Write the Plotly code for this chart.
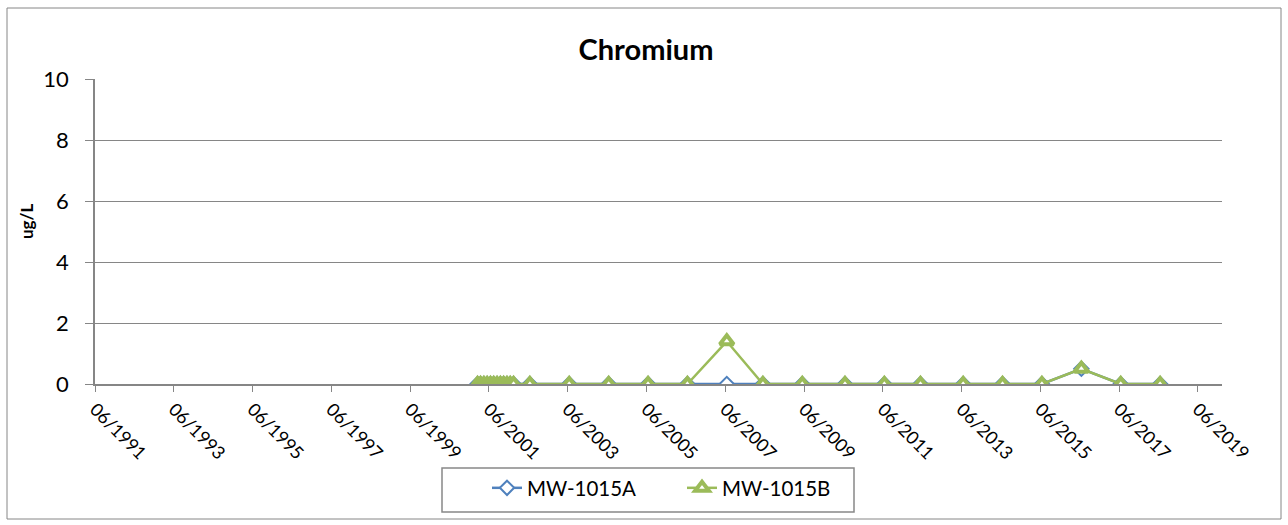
import plotly.graph_objects as go

dates = [
    "2001-02-15", "2001-03-15", "2001-04-15", "2001-05-15", "2001-06-15",
    "2001-07-15", "2001-08-15", "2001-09-15", "2001-10-15", "2001-11-15",
    "2001-12-15", "2002-01-15",
    "2002-06-15", "2003-06-15", "2004-06-15", "2005-06-15", "2006-06-15",
    "2007-06-15", "2008-05-15", "2009-05-15", "2010-06-15", "2011-06-15",
    "2012-05-15", "2013-06-15", "2014-06-15", "2015-06-15", "2016-06-15",
    "2017-06-15", "2018-06-15",
]
mw_1015a = [0] * 12 + [0, 0, 0, 0, 0, 0, 0, 0, 0, 0, 0, 0, 0, 0, 0.5, 0, 0]
mw_1015b = [0] * 12 + [0, 0, 0, 0, 0, 1.4, 0, 0, 0, 0, 0, 0, 0, 0, 0.5, 0, 0]

font_family = "Lato, 'Open Sans', sans-serif"
grid_col = "#868686"

PW, PH, PL, PB = 1127, 305, 95, 384  # plot area size / left / bottom in px


def px_x(x):
    return (x - PL) / PW


def px_y(y):
    return (PB - y) / PH


fig = go.Figure()
fig.add_trace(go.Scatter(
    x=dates, y=mw_1015a, name="MW-1015A", mode="lines+markers",
    line=dict(color="#4F81BD", width=2.5),
    marker=dict(symbol="diamond", size=11, color="white",
                line=dict(color="#4F81BD", width=2)),
))
fig.add_trace(go.Scatter(
    x=dates, y=mw_1015b, name="MW-1015B", mode="lines+markers",
    line=dict(color="#9BBB59", width=2.5),
    marker=dict(symbol="triangle-up", size=12, color="white",
                line=dict(color="#9BBB59", width=4)),
))

fig.update_layout(
    width=1288, height=525,
    margin=dict(l=95, r=66, t=79, b=141),
    paper_bgcolor="white", plot_bgcolor="white",
    font=dict(family=font_family, color="black"),
    title=dict(text="<b>Chromium</b>", x=px_x(646), xref="paper", xanchor="center",
               y=1 - 50 / 525, yref="container", yanchor="middle",
               font=dict(size=29, family=font_family, color="black")),
    showlegend=True,
    legend=dict(orientation="h", x=px_x(487), xanchor="left", xref="paper",
                y=px_y(468), yanchor="top", borderwidth=0,
                bgcolor="rgba(0,0,0,0)",
                font=dict(size=20.5, family=font_family),
                entrywidth=150, traceorder="normal"),
    shapes=[
        dict(type="rect", xref="paper", yref="paper",
             x0=px_x(7), x1=px_x(1281), y0=px_y(519), y1=px_y(8),
             line=dict(color="#868686", width=1)),
        dict(type="rect", xref="paper", yref="paper",
             x0=px_x(442), x1=px_x(854), y0=px_y(512), y1=px_y(468),
             line=dict(color="#888888", width=1.5)),
    ],
    annotations=[dict(text="<b>ug/L</b>", textangle=-90, showarrow=False,
                      xref="paper", yref="paper",
                      x=px_x(26), y=px_y(222),
                      xanchor="center", yanchor="middle",
                      font=dict(size=17, family=font_family, color="black"))],
)

fig.update_xaxes(
    type="date", range=["1991-06-01", "2020-01-10"],
    tick0="1991-06-01", dtick="M24", tickformat="%m/%Y", tickangle=45,
    showgrid=False, showline=True, linecolor=grid_col, linewidth=1.5,
    ticks="outside", ticklen=6, tickcolor=grid_col,
    tickfont=dict(size=18, family=font_family, color="black"),
    zeroline=False,
)
fig.update_yaxes(
    range=[0, 10], dtick=2, showgrid=True, gridcolor=grid_col, gridwidth=1,
    showline=True, linecolor=grid_col, linewidth=1.5,
    ticks="outside", ticklen=8, tickcolor=grid_col, ticklabelstandoff=12,
    tickfont=dict(size=22, family=font_family, color="black"),
    zeroline=False,
)

fig.write_html("out.html", config={"displayModeBar": False},
               post_script="document.body.style.margin='0';")
